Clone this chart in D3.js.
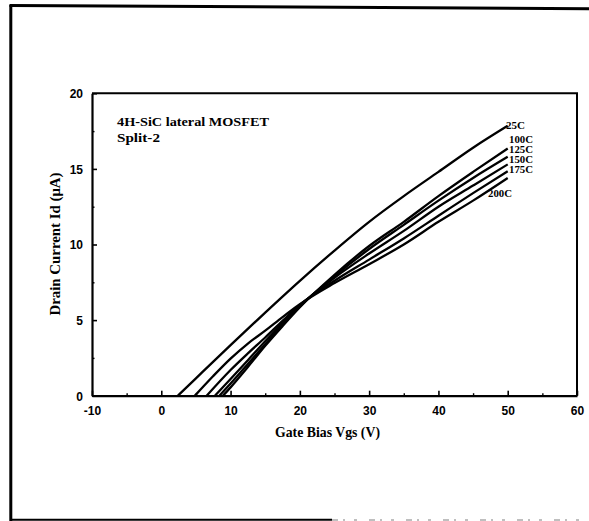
<!DOCTYPE html>
<html>
<head>
<meta charset="utf-8">
<script src="https://cdn.jsdelivr.net/npm/d3@7"></script>
<style>
  html, body { margin: 0; padding: 0; background: #fff; }
  svg { display: block; }
</style>
</head>
<body>
<svg id="chart" width="589" height="521"></svg>
<script>
// Id–Vgs transfer curves of a 4H-SiC lateral MOSFET at several temperatures
const temperatures = ["25C", "100C", "125C", "150C", "175C", "200C"];

const vgs25  = [2.4, 5, 10, 15, 20, 25, 30, 35, 40, 45, 50];
const id25   = [0, 1.15, 3.35, 5.5, 7.6, 9.6, 11.5, 13.2, 14.8, 16.4, 17.85];

const vgs100 = [8.9, 10, 12.5, 15, 17.5, 20, 25, 30, 35, 40, 45, 50];
const id100  = [0, 0.55, 1.9, 3.3, 4.6, 5.85, 8.0, 9.9, 11.5, 13.2, 14.8, 16.35];

const vgs125 = [8.4, 10, 12.5, 15, 17.5, 20, 25, 30, 35, 40, 45, 50];
const id125  = [0, 0.8, 2.1, 3.4, 4.7, 5.9, 7.9, 9.7, 11.3, 12.9, 14.4, 15.8];

const vgs150 = [7.75, 10, 12.5, 15, 17.5, 20, 25, 30, 35, 40, 45, 50];
const id150  = [0, 1.1, 2.35, 3.6, 4.8, 5.95, 7.8, 9.4, 10.9, 12.5, 13.9, 15.3];

const vgs175 = [6.55, 10, 12.5, 15, 17.5, 20, 25, 30, 35, 40, 45, 50];
const id175  = [0, 1.7, 2.8, 3.85, 4.95, 6.0, 7.6, 9.0, 10.4, 11.9, 13.4, 14.85];

const vgs200 = [4.85, 7.5, 10, 12.5, 15, 17.5, 20, 25, 30, 35, 40, 45, 50];
const id200  = [0, 1.3, 2.45, 3.45, 4.3, 5.2, 6.05, 7.45, 8.7, 10.0, 11.5, 12.9, 14.4];

const xMajorTicks = [-10, 0, 10, 20, 30, 40, 50, 60];
const xMinorTicks = [-5, 5, 15, 25, 35, 45, 55];
const yMajorTicks = [0, 5, 10, 15, 20];
const yMinorTicks = [2.5, 7.5, 12.5, 17.5];

const titleLines = ["4H-SiC lateral MOSFET", "Split-2"];
const xTitle = "Gate Bias Vgs (V)";
const yTitle = "Drain Current Id (\u03BCA)";

const seriesX = [vgs25, vgs100, vgs125, vgs150, vgs175, vgs200];
const seriesY = [id25, id100, id125, id150, id175, id200];

const series = temperatures.map((t, i) => ({
  name: t,
  points: seriesX[i].map((v, j) => [v, seriesY[i][j]])
}));

const svg = d3.select("#chart");
svg.append("rect").attr("width", 589).attr("height", 521).attr("fill", "#fff");

// outer page frame (left, top and partial bottom rule)
const frame = svg.append("g").attr("fill", "none").attr("stroke", "#000");
frame.append("path").attr("d", "M10.8,5 L10.8,521").attr("stroke-width", 3);
frame.append("path").attr("d", "M9.5,5.5 L589,8.7").attr("stroke-width", 3);
frame.append("path").attr("d", "M10,519.8 L332,519.8").attr("stroke-width", 2);
frame.append("path").attr("d", "M332,520 L589,520").attr("stroke", "#aaa")
  .attr("stroke-width", 1.5).attr("stroke-dasharray", "6,5,2,9,3,12");

const x = d3.scaleLinear().domain([-10, 60]).range([92, 577]);
const y = d3.scaleLinear().domain([0, 20]).range([395.7, 93.3]);

const labelFont = "'Liberation Sans', Arial, sans-serif";
const serifFont = "'Liberation Serif', 'Times New Roman', serif";

// plot box (top and right edges)
svg.append("path")
  .attr("d", `M${x(-10)},${y(20)} L${x(60)},${y(20)} L${x(60)},${y(0)}`)
  .attr("fill", "none").attr("stroke", "#000").attr("stroke-width", 2);

// x axis: major ticks with labels, minor ticks, all pointing inward
const gx = svg.append("g").attr("transform", `translate(0,${y(0)})`)
  .call(d3.axisBottom(x).tickValues(xMajorTicks).tickSize(-5).tickSizeOuter(0)
    .tickFormat(d => String(d)));
gx.select(".domain").attr("stroke-width", 2.2);
gx.selectAll(".tick line").attr("stroke-width", 1.6);
gx.selectAll(".tick text")
  .attr("y", 19).attr("dy", null)
  .attr("font-family", labelFont).attr("font-weight", "bold").attr("font-size", 12)
  .attr("fill", "#000");

const gxm = svg.append("g").attr("transform", `translate(0,${y(0)})`)
  .call(d3.axisBottom(x).tickValues(xMinorTicks).tickSize(-2.5).tickSizeOuter(0).tickFormat(""));
gxm.select(".domain").remove();
gxm.selectAll(".tick line").attr("stroke-width", 1.4);

// y axis
const gy = svg.append("g").attr("transform", `translate(${x(-10)},0)`)
  .call(d3.axisLeft(y).tickValues(yMajorTicks).tickSize(-5).tickSizeOuter(0)
    .tickFormat(d => String(d)));
gy.select(".domain").attr("stroke-width", 2.2);
gy.selectAll(".tick line").attr("stroke-width", 1.6);
gy.selectAll(".tick text")
  .attr("x", -9).attr("dy", "0.36em")
  .attr("font-family", labelFont).attr("font-weight", "bold").attr("font-size", 12)
  .attr("fill", "#000");

const gym = svg.append("g").attr("transform", `translate(${x(-10)},0)`)
  .call(d3.axisLeft(y).tickValues(yMinorTicks).tickSize(-2.5).tickSizeOuter(0).tickFormat(""));
gym.select(".domain").remove();
gym.selectAll(".tick line").attr("stroke-width", 1.4);

// transfer curves
const line = d3.line()
  .x(d => x(d[0]))
  .y(d => y(d[1]))
  .curve(d3.curveMonotoneX);

svg.append("g").selectAll("path.curve")
  .data(series)
  .join("path")
  .attr("class", "curve")
  .attr("d", d => line(d.points))
  .attr("fill", "none")
  .attr("stroke", "#000")
  .attr("stroke-width", 2.3)
  .attr("stroke-linejoin", "round");

// temperature labels next to the curve ends, stacked tightly
const labelPos = {
  "25C":  [506, 128.5],
  "100C": [509, 142.5],
  "125C": [509, 152.5],
  "150C": [509, 162.5],
  "175C": [509, 172.5],
  "200C": [488, 196.5]
};
svg.append("g").selectAll("text")
  .data(temperatures)
  .join("text")
  .attr("x", d => labelPos[d][0])
  .attr("y", d => labelPos[d][1])
  .attr("font-family", serifFont)
  .attr("font-weight", "bold")
  .attr("font-size", 9.5)
  .attr("textLength", d => d.length === 3 ? 19 : 24)
  .attr("lengthAdjust", "spacingAndGlyphs")
  .attr("fill", "#000")
  .text(d => d);

// in-plot title
svg.append("text")
  .attr("x", 117).attr("y", 125.5)
  .attr("font-family", serifFont).attr("font-weight", "bold").attr("font-size", 12)
  .attr("textLength", 152).attr("lengthAdjust", "spacingAndGlyphs")
  .text(titleLines[0]);
svg.append("text")
  .attr("x", 117).attr("y", 141.5)
  .attr("font-family", serifFont).attr("font-weight", "bold").attr("font-size", 12)
  .attr("textLength", 43).attr("lengthAdjust", "spacingAndGlyphs")
  .text(titleLines[1]);

// axis titles
svg.append("text")
  .attr("x", 327.5).attr("y", 437)
  .attr("text-anchor", "middle")
  .attr("font-family", serifFont).attr("font-weight", "bold").attr("font-size", 15.5)
  .attr("textLength", 105).attr("lengthAdjust", "spacingAndGlyphs")
  .text(xTitle);

svg.append("text")
  .attr("transform", "translate(59.5,244) rotate(-90)")
  .attr("text-anchor", "middle")
  .attr("font-family", serifFont).attr("font-weight", "bold").attr("font-size", 15.5)
  .attr("textLength", 143).attr("lengthAdjust", "spacingAndGlyphs")
  .text(yTitle);
</script>
</body>
</html>
